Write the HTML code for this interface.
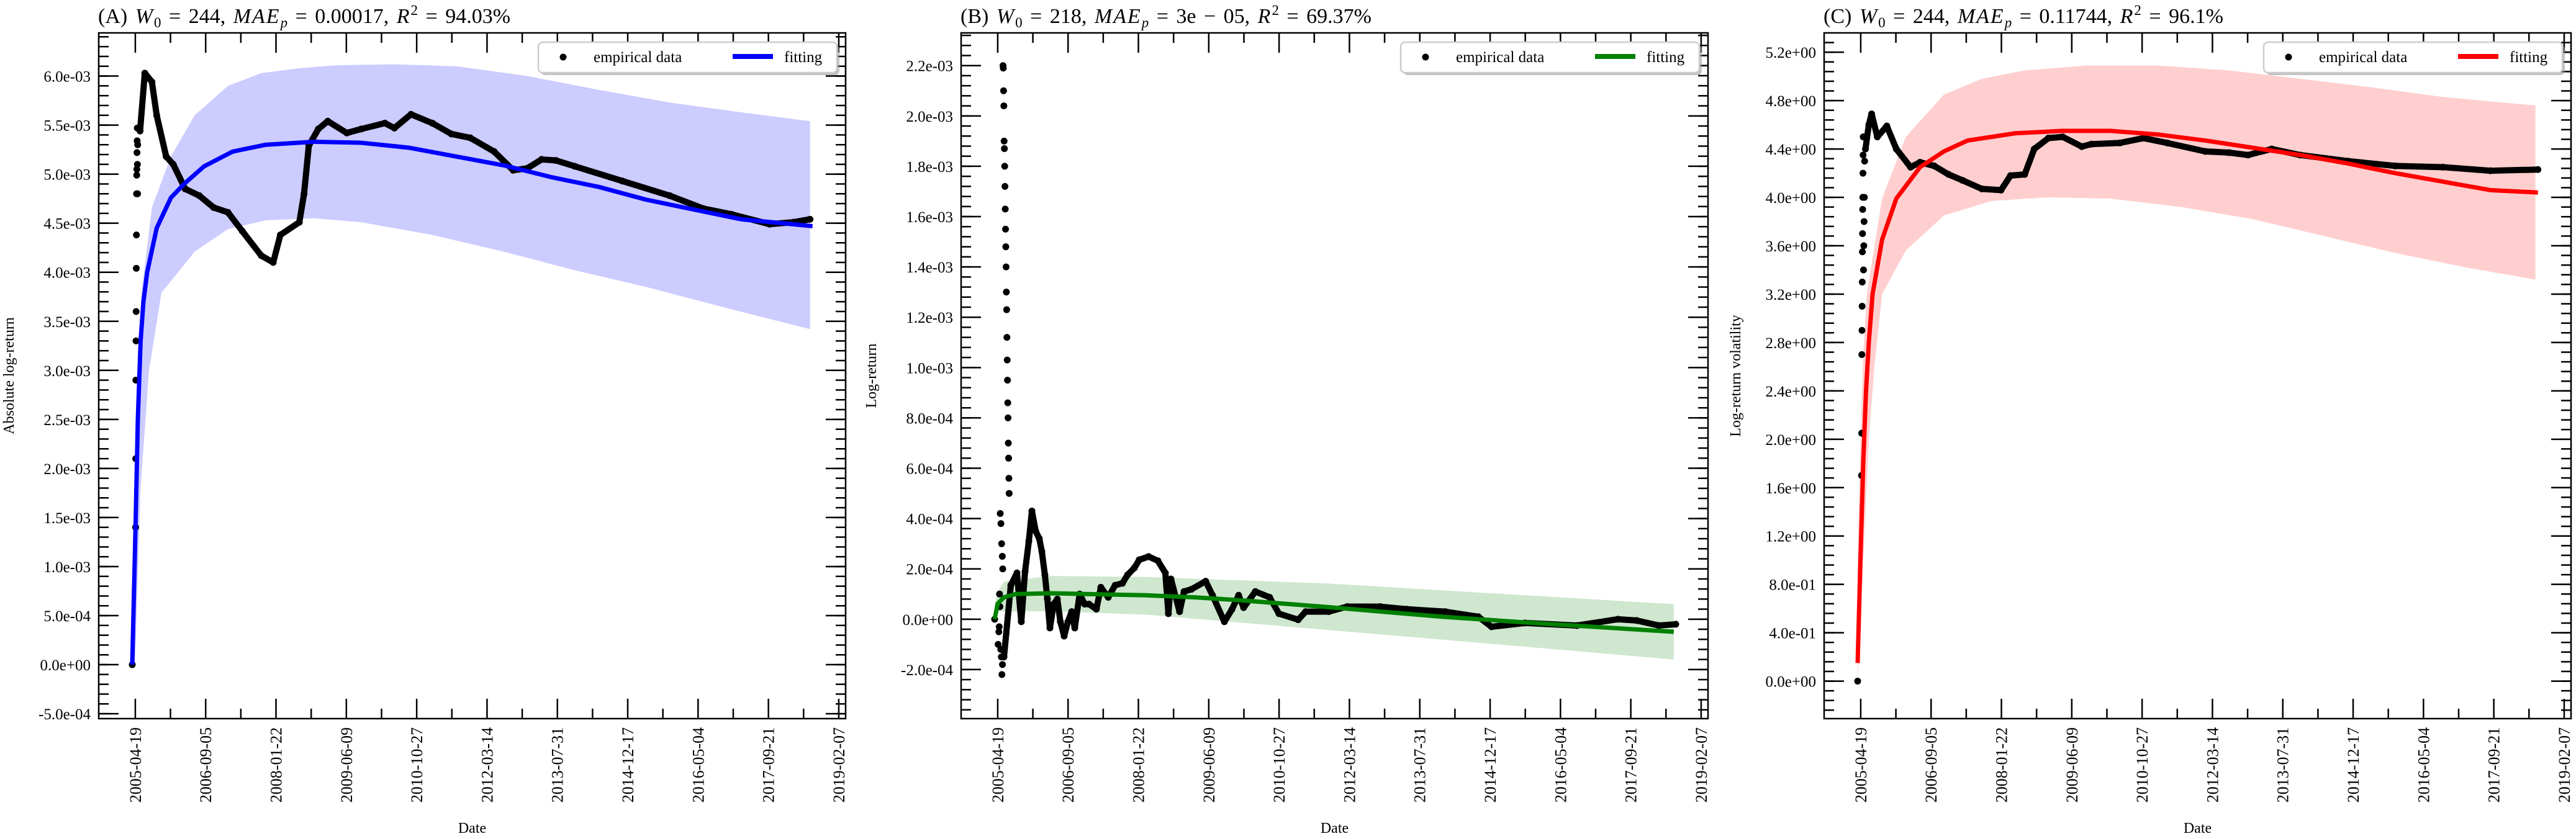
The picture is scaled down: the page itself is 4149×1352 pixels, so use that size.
<!DOCTYPE html>
<html><head><meta charset="utf-8"><style>
html,body{margin:0;padding:0;background:#fff;}
svg{display:block;font-family:"Liberation Serif",serif;}
</style></head><body>
<svg id="chart" width="4149" height="1352" viewBox="0 0 4149 1352" xmlns="http://www.w3.org/2000/svg"></svg>
<script>
// ---------- shared x axis ----------
const xTickLabels = ["2005-04-19","2006-09-05","2008-01-22","2009-06-09","2010-10-27","2012-03-14","2013-07-31","2014-12-17","2016-05-04","2017-09-21","2019-02-07"];
const xTickDays = [22,526,1030,1534,2038,2542,3046,3550,4054,4558,5062];

// ---------- Panel A (values in 1e-3) ----------
const aYTicks = [-0.5,0,0.5,1,1.5,2,2.5,3,3.5,4,4.5,5,5.5,6];
const aYLabels = ["-5.0e-04","0.0e+00","5.0e-04","1.0e-03","1.5e-03","2.0e-03","2.5e-03","3.0e-03","3.5e-03","4.0e-03","4.5e-03","5.0e-03","5.5e-03","6.0e-03"];
const aScatterDays = [0,24,25,26,27,28,29,30,31,32,33,34,35,36,37,38,39];
const aScatterVals = [0,1.4,2.1,2.9,3.3,3.6,4.04,4.38,4.8,4.99,5.05,5.22,5.34,5.47,5.1,4.8,5.3];
const aDays = [56,90,141,175,243,294,379,481,583,686,788,924,1010,1061,1197,1231,1265,1333,1401,1537,1640,1810,1878,1997,2150,2286,2422,2593,2729,2831,2933,3035,3171,3512,3852,4090,4295,4567,4737,4856];
const aVals = [5.44,6.03,5.94,5.6,5.18,5.1,4.85,4.78,4.66,4.61,4.42,4.17,4.1,4.38,4.51,4.8,5.29,5.46,5.54,5.42,5.46,5.52,5.47,5.61,5.52,5.41,5.37,5.23,5.04,5.06,5.15,5.14,5.08,4.93,4.78,4.65,4.59,4.49,4.51,4.54];
const aFitDays = [0,25,40,60,80,107,175,277,379,515,719,958,1299,1640,1980,2320,2661,3001,3342,3682,4022,4363,4874];
const aFitVals = [0,1.5,2.5,3.3,3.7,4.0,4.45,4.76,4.91,5.08,5.23,5.3,5.33,5.32,5.27,5.18,5.09,4.97,4.87,4.74,4.64,4.54,4.47];
const aUpDays = [0,20,45,66,141,277,447,686,924,1197,1469,1878,2320,2831,3342,3852,4363,4856];
const aUpVals = [0,1.5,3.0,3.79,4.66,5.18,5.6,5.9,6.03,6.08,6.11,6.12,6.1,6.0,5.86,5.73,5.63,5.54];
const aLoDays = [20,60,120,209,447,686,958,1299,1640,2150,2661,3171,3682,4300,4856];
const aLoVals = [0,1.8,3.0,3.79,4.21,4.44,4.53,4.55,4.51,4.38,4.21,4.02,3.85,3.62,3.42];

// ---------- Panel B (values in 1e-4) ----------
const bYTicks = [-2,0,2,4,6,8,10,12,14,16,18,20,22];
const bYLabels = ["-2.0e-04","0.0e+00","2.0e-04","4.0e-04","6.0e-04","8.0e-04","1.0e-03","1.2e-03","1.4e-03","1.6e-03","1.8e-03","2.0e-03","2.2e-03"];
const bScatterDays = [0,60,62,64,66,68,70,72,74,76,78,80,82,84,86,88,90,92,94,96,98,100,102,104,40,45,50,55,58,35,30,25,48,52,56,44,38,33];
const bScatterVals = [0,22.0,21.9,21.0,20.4,19.0,18.7,18.0,17.2,16.3,15.5,14.8,14.0,13.0,12.3,11.2,10.3,9.5,8.6,8.0,7.0,6.4,5.6,5.0,4.2,3.8,3.0,2.5,2.0,1.0,-0.5,-1.0,-1.5,-2.2,-1.8,-1.2,0.5,-0.3];
const bDays = [67,116,160,191,218,245,267,294,320,338,360,378,396,423,449,471,498,525,552,574,609,645,676,729,761,814,863,916,952,1001,1036,1103,1170,1223,1245,1263,1325,1357,1410,1512,1561,1646,1699,1748,1784,1868,1970,2037,2175,2228,2393,2526,2762,2950,3229,3465,3560,3800,4172,4466,4600,4759,4880];
const bVals = [-1.5,1.35,1.84,-0.1,1.9,3.1,4.3,3.5,3.2,2.7,1.76,0.8,-0.35,0.6,0.8,-0.1,-0.67,-0.1,0.3,-0.35,1.0,0.6,0.6,0.4,1.27,0.87,1.35,1.43,1.76,2.04,2.36,2.49,2.32,1.84,0.22,1.6,0.3,1.1,1.19,1.51,0.95,-0.1,0.38,0.95,0.46,1.1,0.87,0.22,-0.02,0.3,0.3,0.5,0.5,0.4,0.3,0.1,-0.3,-0.15,-0.25,0.0,-0.05,-0.25,-0.2];
const bFitDays = [0,22,67,151,405,1085,1428,1766,2393,3200,4000,4866];
const bFitVals = [0,0.62,0.87,1.0,1.03,0.95,0.87,0.75,0.48,0.1,-0.2,-0.5];
const bUpDays = [0,22,67,405,1085,2393,3500,4866];
const bUpVals = [0.6,1.1,1.5,1.72,1.68,1.42,1.05,0.6];
const bLoDays = [0,22,405,1085,2393,3500,4866];
const bLoVals = [-0.2,0.3,0.32,0.18,-0.43,-0.95,-1.6];

// ---------- Panel C ----------
const cYTicks = [0,0.4,0.8,1.2,1.6,2.0,2.4,2.8,3.2,3.6,4.0,4.4,4.8,5.2];
const cYLabels = ["0.0e+00","4.0e-01","8.0e-01","1.2e+00","1.6e+00","2.0e+00","2.4e+00","2.8e+00","3.2e+00","3.6e+00","4.0e+00","4.4e+00","4.8e+00","5.2e+00"];
const cScatterDays = [0,28,29,30,31,32,33,34,35,36,37,38,39,40,42,44,46,48,50,52];
const cScatterVals = [0,1.7,2.05,2.7,2.9,3.1,3.3,3.55,3.7,3.9,4.0,4.2,4.35,4.5,3.4,3.6,3.8,4.0,4.3,4.5];
const cDays = [56,80,100,141,209,277,379,447,549,651,753,890,1027,1095,1197,1265,1367,1469,1606,1674,1878,2048,2218,2491,2661,2797,2967,3171,3512,3852,4193,4533,4874];
const cVals = [4.4,4.6,4.69,4.5,4.59,4.4,4.25,4.29,4.26,4.19,4.14,4.07,4.06,4.18,4.19,4.4,4.49,4.5,4.42,4.44,4.45,4.49,4.45,4.38,4.37,4.35,4.4,4.35,4.3,4.26,4.25,4.22,4.23];
const cFitDays = [0,20,40,60,80,107,175,277,447,618,788,1129,1469,1810,2150,2491,2831,3171,3512,3852,4193,4533,4874];
const cFitVals = [0.15,1.0,1.8,2.4,2.8,3.2,3.65,3.99,4.25,4.38,4.47,4.53,4.55,4.55,4.52,4.47,4.41,4.35,4.28,4.2,4.13,4.06,4.04];
const cUpDays = [0,20,40,66,175,345,618,890,1197,1640,2150,2661,3171,3682,4193,4856];
const cUpVals = [1.0,2.0,2.7,3.2,3.99,4.5,4.85,4.98,5.05,5.09,5.09,5.05,4.98,4.91,4.83,4.76];
const cLoDays = [0,40,80,120,175,345,618,958,1367,1810,2320,2831,3342,3852,4363,4856];
const cLoVals = [0,1.0,2.0,2.6,3.2,3.56,3.85,3.97,4.0,3.99,3.92,3.82,3.68,3.54,3.42,3.32];

const NS = "http://www.w3.org/2000/svg";
const svg = document.getElementById('chart');
function mk(tag, attrs, parent){ const e=document.createElementNS(NS,tag); for(const k in attrs) e.setAttribute(k,attrs[k]); (parent||svg).appendChild(e); return e; }

const panels = [
 {key:'a', left:159, yMin:-0.55, yMax:6.44, minor:0.1, yT:aYTicks, yL:aYLabels, color:'#0000ff', band:'#ccccff', ylab:'Absolute log-return', ylabX:14,
  title:['(A) ','W','0',' = 244, ','MAE','p',' = 0.00017, ','R','2',' = 94.03%'],
  sD:aScatterDays,sV:aScatterVals,d:aDays,v:aVals,fD:aFitDays,fV:aFitVals,uD:aUpDays,uV:aUpVals,lD:aLoDays,lV:aLoVals},
 {key:'b', left:1548, yMin:-3.95, yMax:23.3, minor:0.4, yT:bYTicks, yL:bYLabels, color:'#008000', band:'#cfe7cf', ylab:'Log-return', ylabX:1403,
  title:['(B) ','W','0',' = 218, ','MAE','p',' = 3e − 05, ','R','2',' = 69.37%'],
  sD:bScatterDays,sV:bScatterVals,d:bDays,v:bVals,fD:bFitDays,fV:bFitVals,uD:bUpDays,uV:bUpVals,lD:bLoDays,lV:bLoVals},
 {key:'c', left:2938, yMin:-0.31, yMax:5.36, minor:0.08, yT:cYTicks, yL:cYLabels, color:'#ff0000', band:'#ffcfcf', ylab:'Log-return volatility', ylabX:2795,
  title:['(C) ','W','0',' = 244, ','MAE','p',' = 0.11744, ','R','2',' = 96.1%'],
  sD:cScatterDays,sV:cScatterVals,d:cDays,v:cVals,fD:cFitDays,fV:cFitVals,uD:cUpDays,uV:cUpVals,lD:cLoDays,lV:cLoVals}
];

const TOP=53, BOT=1158, W=1203;
panels.forEach(p=>{
  const L=p.left, R=L+W;
  const X = d => L + 54 + 0.2248*d;
  const Y = v => BOT - (v - p.yMin)/(p.yMax - p.yMin)*(BOT-TOP);
  const g = mk('g',{});
  
  
  const cp = mk('clipPath',{id:'clip'+p.key}, g);
  mk('rect',{x:L,y:TOP,width:W,height:BOT-TOP},cp);
  const plot = mk('g',{'clip-path':'url(#clip'+p.key+')'}, g);
  let pts = p.uD.map((d,i)=>X(d)+','+Y(p.uV[i]));
  for(let i=p.lD.length-1;i>=0;i--) pts.push(X(p.lD[i])+','+Y(p.lV[i]));
  const band = mk('polygon',{points:pts.join(' '),fill:p.band,stroke:'none'},plot);
  
  
  const ep = mk('polyline',{points:p.d.map((d,i)=>X(d)+','+Y(p.v[i])).join(' '),fill:'none',stroke:'#000','stroke-width':10,'stroke-linejoin':'round','stroke-linecap':'round'},plot);
  
  
  p.d.forEach((d,i)=>{
    const c = mk('circle',{cx:X(d),cy:Y(p.v[i]),r:5.5,fill:'#000'},plot);
    
    
  });
  p.sD.forEach((d,i)=>{
    const c = mk('circle',{cx:X(d),cy:Y(p.sV[i]),r:5.5,fill:'#000'},plot);
    
    
  });
  const fl = mk('polyline',{points:p.fD.map((d,i)=>X(d)+','+Y(p.fV[i])).join(' '),fill:'none',stroke:p.color,'stroke-width':7,'stroke-linejoin':'round'},plot);
  
  
  const fr = mk('rect',{x:L,y:TOP,width:W,height:BOT-TOP,fill:'none',stroke:'#000','stroke-width':2.5},g);
  
  
  const ticks = mk('g',{stroke:'#000','stroke-width':2.5},g);
  for(let v=Math.ceil(p.yMin/p.minor)*p.minor; v<=p.yMax; v+=p.minor){
    const y=Y(v);
    mk('line',{x1:L,x2:L+16,y1:y,y2:y},ticks); mk('line',{x1:R,x2:R-16,y1:y,y2:y},ticks);
  }
  p.yT.forEach((v,i)=>{
    const y=Y(v);
    mk('line',{x1:L,x2:L+32,y1:y,y2:y},ticks); mk('line',{x1:R,x2:R-32,y1:y,y2:y},ticks);
    const t = mk('text',{x:L-13,y:y+9,'text-anchor':'end','font-size':25},g);
    t.textContent = p.yL[i];
    
    
  });
  xTickDays.forEach((d,i)=>{
    const x=X(d);
    mk('line',{x1:x,x2:x,y1:BOT,y2:BOT-32},ticks); mk('line',{x1:x,x2:x,y1:TOP,y2:TOP+32},ticks);
    if(i<xTickDays.length-1){ const xm=X(d+252); mk('line',{x1:xm,x2:xm,y1:BOT,y2:BOT-16},ticks); mk('line',{x1:xm,x2:xm,y1:TOP,y2:TOP+16},ticks); }
    const t = mk('text',{x:x+9,y:1172,'text-anchor':'end','font-size':26,transform:'rotate(-90 '+(x+9)+' 1172)'},g);
    t.textContent = xTickLabels[i];
    
    
  });
  const xt = mk('text',{x:L+W/2,y:1342,'text-anchor':'middle','font-size':24},g);
  xt.textContent='Date';
  
  
  const yt = mk('text',{x:p.ylabX+8,y:(TOP+BOT)/2,'text-anchor':'middle','font-size':24,transform:'rotate(-90 '+(p.ylabX+8)+' '+(TOP+BOT)/2+')'},g);
  yt.textContent=p.ylab;
  
  
  const tt = mk('text',{x:L-1,y:37,'font-size':34,'word-spacing':4},g);
  
  
  const parts=p.title, styles=['n','i','sub','n','i','subi','n','i','sup','n'];
  parts.forEach((s,i)=>{
    const ts=mk('tspan',{},tt); ts.textContent=s;
    const st=styles[i];
    if(st==='i') { ts.setAttribute('font-style','italic'); ts.setAttribute('letter-spacing',2); }
    if(st==='sub'||st==='subi'){ ts.setAttribute('font-size',23); ts.setAttribute('dy',7); if(st==='subi') ts.setAttribute('font-style','italic'); }
    if(st==='sup'){ ts.setAttribute('font-size',23); ts.setAttribute('dy',-13); }
    if(i>0 && (styles[i-1]==='sub'||styles[i-1]==='subi')) ts.setAttribute('dy',-7);
    if(i>0 && styles[i-1]==='sup') ts.setAttribute('dy',13);
  });
  const lg = mk('g',{},g);
  
  
  mk('rect',{x:R-491,y:72,width:481,height:49,rx:7,fill:'#999','opacity':0.6},lg);
  mk('rect',{x:R-495,y:68,width:481,height:49,rx:7,fill:'#fff',stroke:'#ccc','stroke-width':2.5},lg);
  const ld = mk('circle',{cx:R-455,cy:92,r:5.5,fill:'#000'},lg);
  
  
  const l1 = mk('text',{x:R-406,y:100,'font-size':25},lg); l1.textContent='empirical data';
  
  
  const ll = mk('line',{x1:R-182,x2:R-117,y1:91,y2:91,stroke:p.color,'stroke-width':8},lg);
  
  
  const l2 = mk('text',{x:R-99,y:100,'font-size':25},lg); l2.textContent='fitting';
  
  
});
</script>
</body></html>
